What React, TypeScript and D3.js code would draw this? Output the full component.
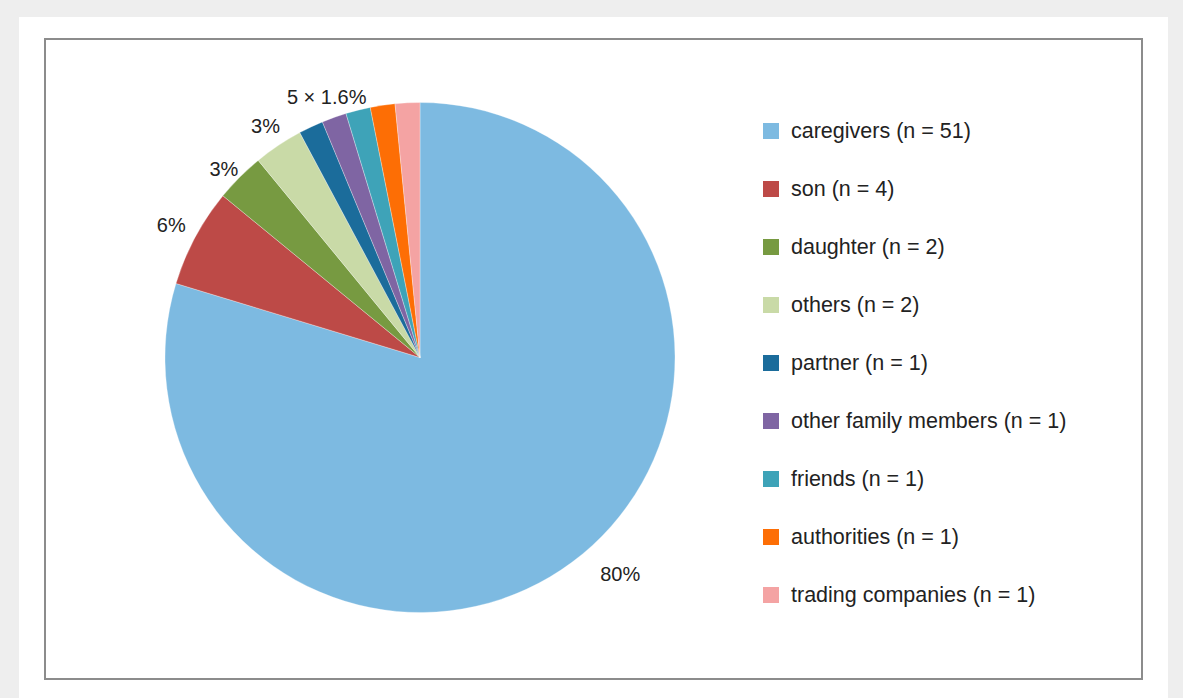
import React from "react";
import * as d3 from "d3";

const categories = [
  "caregivers",
  "son",
  "daughter",
  "others",
  "partner",
  "other family members",
  "friends",
  "authorities",
  "trading companies",
];
const counts = [51, 4, 2, 2, 1, 1, 1, 1, 1];
const colors = [
  "#7dbae1",
  "#bd4a47",
  "#779a41",
  "#c9daa7",
  "#1b6c9b",
  "#7f65a3",
  "#3ea3b8",
  "#fd6e05",
  "#f4a3a3",
];
// label text and the position (in cumulative count units) where it sits
const labelTexts = ["80%", "6%", "3%", "3%", "5 × 1.6%"];
const labelAt = [24.4, 53, 55.8, 58, 60.5];
const labelRadius = [295, 282, 272, 278, 277];

const W = 1183;
const H = 698;
const cx = 420;
const cy = 357.5;
const R = 255;

export default function App() {
  const total = d3.sum(counts);
  const pie = d3
    .pie<number>()
    .sort(null)
    .value((d) => d)(counts);
  const arc = d3
    .arc<d3.PieArcDatum<number>>()
    .innerRadius(0)
    .outerRadius(R);
  const angle = d3.scaleLinear().domain([0, total]).range([0, 2 * Math.PI]);
  const legendY = d3
    .scalePoint<string>()
    .domain(categories)
    .range([131, 595]);
  const font = "'Liberation Sans', Arial, Helvetica, sans-serif";

  return (
    <svg
      width={W}
      height={H}
      style={{ position: "absolute", left: 0, top: 0, display: "block" }}
    >
      <rect x={0} y={0} width={W} height={H} fill="#eeeeee" />
      <rect x={19} y={17} width={1149} height={H - 17} fill="#ffffff" />
      <rect
        x={45}
        y={39}
        width={1097}
        height={640}
        fill="#ffffff"
        stroke="#8c8c8c"
        strokeWidth={2}
      />
      <g transform={`translate(${cx},${cy})`}>
        {pie.map((p, i) => (
          <path
            key={categories[i]}
            d={arc(p) || ""}
            fill={colors[i]}
            stroke="#ffffff"
            strokeOpacity={0.5}
            strokeWidth={0.6}
          />
        ))}
        {labelTexts.map((t, i) => {
          const a = angle(labelAt[i]);
          const r = labelRadius[i];
          return (
            <text
              key={i}
              x={Math.sin(a) * r}
              y={-Math.cos(a) * r}
              textAnchor="middle"
              dominantBaseline="central"
              fontFamily={font}
              fontSize={20}
              fill="#222222"
            >
              {t}
            </text>
          );
        })}
      </g>
      <g>
        {categories.map((c, i) => {
          const y = legendY(c) as number;
          return (
            <g key={c}>
              <rect
                x={763}
                y={y - 8}
                width={16}
                height={16}
                fill={colors[i]}
              />
              <text
                x={791}
                y={y}
                dominantBaseline="central"
                fontFamily={font}
                fontSize={21.5}
                fill="#222222"
              >
                {`${c} (n = ${counts[i]})`}
              </text>
            </g>
          );
        })}
      </g>
    </svg>
  );
}
